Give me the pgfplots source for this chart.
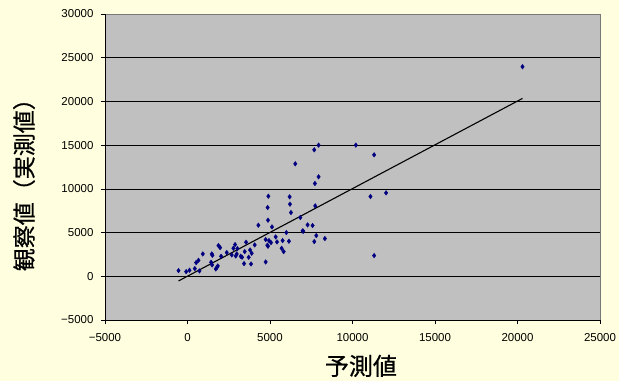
\documentclass[border=0pt]{standalone}
\usepackage{pgfplots}
\pgfplotsset{compat=1.18}
\usepackage{fontspec}
\setmainfont{Liberation Sans}
\newfontfamily\jp[FakeBold=0.6]{Noto Sans CJK JP}
\definecolor{bgyellow}{RGB}{255,255,224}
\definecolor{plotgray}{RGB}{192,192,192}
\definecolor{navy}{RGB}{0,0,128}
\begin{document}
\begin{tikzpicture}
\path[use as bounding box, fill=bgyellow] (-105bp,-61bp) rectangle (514bp,320bp);
\begin{axis}[
  at={(0,0)}, anchor=south west,
  scale only axis, width=495bp, height=306bp,
  xmin=-5000, xmax=25000, ymin=-5000, ymax=30000,
  scaled ticks=false,
  axis background/.style={fill=plotgray, draw={rgb,255:red,120;green,120;blue,120}},
  axis x line*=bottom, axis y line*=left,
  axis line style={-, black, line width=0.8bp},
  tick align=outside, major tick length=4bp,
  tick style={black, line width=0.6bp},
  xtick={-5000,0,5000,10000,15000,20000,25000},
  xticklabels={−5000,0,5000,10000,15000,20000,25000},
  ytick={-5000,0,5000,10000,15000,20000,25000,30000},
  yticklabels={−5000,0,5000,10000,15000,20000,25000,30000},
  extra y ticks={0,5000,10000,15000,20000,25000},
  extra y tick labels={},
  extra y tick style={grid=major, major tick length=0pt},
  major grid style={black, line width=0.7bp},
  ticklabel style={font=\fontsize{11.5bp}{13bp}\selectfont},
  yticklabel style={xshift=-4bp},
  xticklabel style={yshift=-6bp},
  xlabel={\jp 予測値},
  ylabel={\jp 観察値（実測値）},
  xlabel style={font=\fontsize{24bp}{26bp}\selectfont, at={(axis description cs:0.517,-0.150)}, anchor=center},
  ylabel style={font=\fontsize{23bp}{25bp}\selectfont, at={(axis description cs:-0.1636,0.46)}, anchor=center},
  clip=false,
]
\addplot[navy, only marks, mark=diamond*, mark size=2.3bp, mark options={fill=navy, draw=navy}] coordinates {
(-544,650) (-81,534) (121,687) (444,878) (726,611) (524,1565) (665,1832)
(927,2557) (1472,2557) (1512,2405) (1431,1603) (1492,1298) (1714,840)
(1774,992) (1835,1183) (1875,3511) (1976,3282) (2036,2290) (2379,2710)
(2681,2443) (2782,3206) (2883,3626) (2923,2328) (3024,3168) (2984,2557)
(3226,2290) (3306,2176) (3427,1450) (3468,2824) (3548,3893) (3710,2176)
(3790,3015) (3891,2634) (3851,1412) (4073,3588) (4294,5840) (4738,1641)
(4738,4198) (4839,3550) (4879,3435) (4940,4084) (5060,3855) (4879,6412)
(4859,7863) (4899,9160) (5121,5649) (5343,4504) (5423,3931) (5706,3206)
(5766,4084) (5827,2824) (5988,5000) (6149,4008) (6190,9084) (6210,8244)
(6270,7290) (6532,12863) (6835,6718) (6976,5191) (7016,5153) (7278,5878)
(7581,5802) (7681,3969) (7802,4656) (7742,8053) (7722,10611) (7944,11374)
(7681,14466) (7944,15000) (8327,4313) (10202,15000) (11089,9122)
(11310,13893) (11310,2366) (12036,9542) (20302,23969)
};
\addplot[black, line width=1.1bp, no marks] coordinates {(-544,-534) (20302,20344)};
\end{axis}
\end{tikzpicture}
\end{document}
